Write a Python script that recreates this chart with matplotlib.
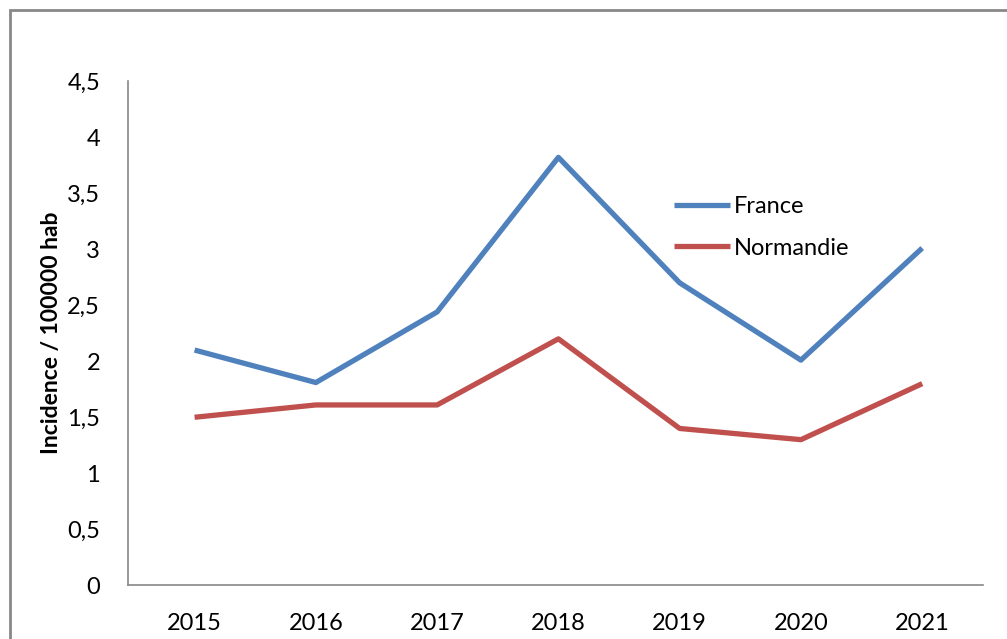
import matplotlib.pyplot as plt
from matplotlib.patches import Rectangle

years = ['2015', '2016', '2017', '2018', '2019', '2020', '2021']
france = [2.1, 1.81, 2.44, 3.82, 2.7, 2.01, 3.01]
normandie = [1.5, 1.61, 1.61, 2.2, 1.4, 1.3, 1.8]
yticks = [0, 0.5, 1, 1.5, 2, 2.5, 3, 3.5, 4, 4.5]

plt.rcParams['font.family'] = ['Lato', 'DejaVu Sans']

fig = plt.figure(figsize=(10.07, 6.39), dpi=100)
ax = fig.add_axes([0.127, 0.084, 0.849, 0.789])

x = range(len(years))
ax.plot(x, france, color='#4F81BD', lw=3.8, label='France', solid_capstyle='butt')
ax.plot(x, normandie, color='#C0504D', lw=3.8, label='Normandie', solid_capstyle='butt')

ax.set_xlim(-0.55, 6.5)
ax.set_ylim(0, 4.5)
ax.set_xticks(list(x))
ax.set_xticklabels(years, fontsize=17)
ax.set_yticks(yticks)
ax.set_yticklabels([('%g' % v).replace('.', ',') for v in yticks], fontsize=17)
ax.tick_params(length=0, pad=20, axis='x')
ax.tick_params(length=0, pad=20, axis='y')
ax.set_ylabel('Incidence / 100000 hab', fontsize=16.5, fontweight='bold', labelpad=4)

for s in ['top', 'right']:
    ax.spines[s].set_visible(False)
for s in ['left', 'bottom']:
    ax.spines[s].set_color('#888888')
    ax.spines[s].set_linewidth(1.2)

ax.legend(loc='center left', bbox_to_anchor=(0.648, 0.644), bbox_transform=fig.transFigure,
          frameon=False, fontsize=17, handlelength=2.4, handletextpad=0.15, labelspacing=0.87)

fig.patches.append(Rectangle((10 / 1007, -0.1), 1.2, 1 - 10 / 639 + 0.1, transform=fig.transFigure,
                             fill=False, edgecolor='#888888', lw=2, clip_on=False))

fig.savefig('out.png', dpi=100)
